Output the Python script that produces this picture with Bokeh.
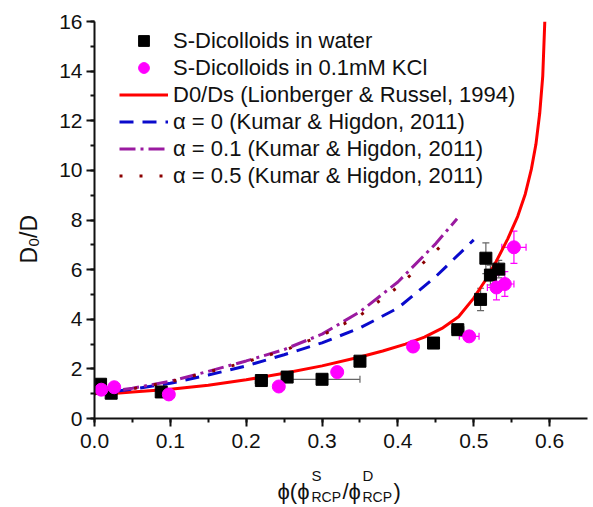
import numpy as np
from bokeh.plotting import figure
from bokeh.layouts import row, column
from bokeh.models import (ColumnDataSource, Whisker, TeeHead, Legend, LegendItem,
                          SingleIntervalTicker, NumeralTickFormatter, Range1d)
from bokeh.core.properties import value
from bokeh.embed import file_html
from bokeh.resources import INLINE

# ---- data ----
water_x = [0.008, 0.022, 0.088, 0.220, 0.254, 0.300, 0.350, 0.447, 0.479, 0.509, 0.516, 0.522, 0.533]
water_y = [1.38, 1.02, 1.07, 1.53, 1.67, 1.58, 2.31, 3.04, 3.58, 4.80, 6.46, 5.78, 6.02]
water_xerr = [0.003, 0.003, 0.003, 0.008, 0.003, 0.05, 0.003, 0.004, 0.008, 0.004, 0.004, 0.005, 0.006]
water_yerr = [0.1, 0.05, 0.05, 0.05, 0.05, 0.05, 0.1, 0.15, 0.2, 0.45, 0.62, 0.4, 0.35]

kcl_x = [0.009, 0.026, 0.098, 0.243, 0.320, 0.420, 0.494, 0.530, 0.541, 0.553]
kcl_y = [1.16, 1.26, 0.97, 1.29, 1.87, 2.90, 3.31, 5.28, 5.42, 6.90]
kcl_xerr = [0.003, 0.003, 0.003, 0.003, 0.003, 0.004, 0.013, 0.012, 0.012, 0.016]
kcl_yerr = [0.05, 0.05, 0.05, 0.05, 0.1, 0.2, 0.2, 0.5, 0.5, 0.65]

lr_x = [0.01, 0.02, 0.05, 0.1, 0.15, 0.2, 0.25, 0.3, 0.35, 0.38, 0.41, 0.435, 0.458, 0.48,
        0.5, 0.515, 0.53, 0.545, 0.558, 0.568, 0.576, 0.582, 0.587, 0.591, 0.5937]
lr_y = [1.0, 1.0, 1.07, 1.18, 1.34, 1.56, 1.82, 2.12, 2.48, 2.72, 3.0, 3.28, 3.63, 4.1,
        4.85, 5.55, 6.35, 7.25, 8.15, 9.05, 10.05, 11.05, 12.3, 13.8, 16.0]

a0_x = [0.0, 0.05, 0.1, 0.15, 0.2, 0.25, 0.3, 0.35, 0.4, 0.45, 0.5]
a0_y = [1.0, 1.18, 1.42, 1.75, 2.12, 2.57, 3.05, 3.65, 4.45, 5.72, 7.2]

a01_x = [0.0, 0.05, 0.1, 0.15, 0.2, 0.25, 0.3, 0.35, 0.4, 0.45, 0.478]
a01_y = [1.0, 1.22, 1.5, 1.9, 2.32, 2.78, 3.4, 4.3, 5.5, 7.05, 8.05]

a05_x = [0.0, 0.05, 0.1, 0.15, 0.2, 0.25, 0.3, 0.35, 0.4, 0.45, 0.468]
a05_y = [1.0, 1.2, 1.48, 1.87, 2.28, 2.74, 3.35, 4.15, 5.3, 6.75, 7.3]

labels = ["S-Dicolloids in water",
          "S-Dicolloids in 0.1mM KCl",
          "D0/Ds (Lionberger & Russel, 1994)",
          "\u03b1 = 0 (Kumar & Higdon, 2011)",
          "\u03b1 = 0.1 (Kumar & Higdon, 2011)",
          "\u03b1 = 0.5 (Kumar & Higdon, 2011)"]

FONT = "Liberation Sans"
TXT = "#111111"
LEFT_W = 50          # width of the strip that holds the y title
BOTTOM_H = 45        # height of the strip that holds the x title
BL, BR = 94 - LEFT_W, 6   # main plot's left/right borders

# ---------------- main plot ----------------
p = figure(width=593 - LEFT_W, height=507 - BOTTOM_H, output_backend="svg", toolbar_location=None,
           x_range=Range1d(0, 0.65), y_range=Range1d(0, 16),
           min_border_left=BL, min_border_right=BR, min_border_top=21,
           min_border_bottom=507 - BOTTOM_H - 21 - 397)
p.outline_line_color = None
p.xgrid.visible = False
p.ygrid.visible = False

for ax in (p.xaxis[0], p.yaxis[0]):
    ax.axis_line_width = 2
    ax.axis_line_color = "#111111"
    ax.major_tick_line_width = 2
    ax.minor_tick_line_width = 2
    ax.major_tick_line_color = "#111111"
    ax.minor_tick_line_color = "#111111"
    ax.major_tick_out = 8
    ax.major_tick_in = 0
    ax.minor_tick_out = 4
    ax.minor_tick_in = 0
    ax.major_label_text_font = FONT
    ax.major_label_text_font_size = "21px"
    ax.major_label_text_color = TXT

p.xaxis[0].ticker = SingleIntervalTicker(interval=0.1, num_minor_ticks=2)
p.xaxis[0].formatter = NumeralTickFormatter(format="0.0")
p.xaxis[0].major_label_standoff = 7
p.yaxis[0].ticker = SingleIntervalTicker(interval=2, num_minor_ticks=2)
p.yaxis[0].major_label_standoff = 4

r_lr = p.line(lr_x, lr_y, line_color="#ff0000", line_width=3)
r_a0 = p.line(a0_x, a0_y, line_color="#0a0acc", line_width=3, line_dash="14 9")
r_a01 = p.line(a01_x, a01_y, line_color="#9a1aa0", line_width=3, line_dash="16 5 3 5")
r_a05 = p.line(a05_x, a05_y, line_color="#8b0000", line_width=3, line_dash="3 17")

def err_source(xs, ys, xe, ye):
    return ColumnDataSource(dict(x=xs, y=ys,
                                 xl=[a - b for a, b in zip(xs, xe)],
                                 xu=[a + b for a, b in zip(xs, xe)],
                                 yl=[a - b for a, b in zip(ys, ye)],
                                 yu=[a + b for a, b in zip(ys, ye)]))

ws = err_source(water_x, water_y, water_xerr, water_yerr)
ks = err_source(kcl_x, kcl_y, kcl_xerr, kcl_yerr)

for src, col in ((ws, "#666666"), (ks, "#ff00ff")):
    for base, lo, up, dim in (("y", "xl", "xu", "width"), ("x", "yl", "yu", "height")):
        p.add_layout(Whisker(source=src, base=base, lower=lo, upper=up, dimension=dim,
                             line_color=col, line_width=1.2,
                             upper_head=TeeHead(size=7, line_color=col, line_width=1.2),
                             lower_head=TeeHead(size=7, line_color=col, line_width=1.2)))

r_w = p.scatter("x", "y", source=ws, marker="square", size=12, fill_color="black",
                line_color="black")
r_k = p.scatter("x", "y", source=ks, marker="circle", size=13, fill_color="#ff00ff",
                line_color="#ff00ff")

legend = Legend(items=[LegendItem(label=labels[0], renderers=[r_w]),
                       LegendItem(label=labels[1], renderers=[r_k]),
                       LegendItem(label=labels[2], renderers=[r_lr]),
                       LegendItem(label=labels[3], renderers=[r_a0]),
                       LegendItem(label=labels[4], renderers=[r_a01]),
                       LegendItem(label=labels[5], renderers=[r_a05])],
                location=(25, 229), margin=0, padding=0, spacing=0,
                glyph_width=49, glyph_height=27, label_height=27, label_standoff=5,
                label_text_font=FONT, label_text_font_size="22px", label_text_color=TXT,
                background_fill_alpha=0, border_line_color=None)
p.add_layout(legend)

# ---------------- title strips (text positioned in canvas pixels) ----------------
def strip(w, h, x0, y0, bl=0, br=0):
    f = figure(width=w, height=h, output_backend="svg", toolbar_location=None,
               x_range=Range1d(x0 + bl, x0 + w - br), y_range=Range1d(507 - y0 - h, 507 - y0),
               x_axis_type=None, y_axis_type=None, min_border=0,
               min_border_left=bl, min_border_right=br, min_border_top=0, min_border_bottom=0)
    f.outline_line_color = None
    f.xgrid.visible = False
    f.ygrid.visible = False
    return f

SHIFT = 7  # observed offset of the alphabetic baseline in the rendered text

def put(f, text, cx, cy, size, angle=0.0):
    if angle:
        cx = cx - SHIFT
    else:
        cy = cy - SHIFT
    f.text(x=[cx], y=[507 - cy], text=[text], text_font=value(FONT),
           text_font_size=f"{size}px", text_color=TXT, text_align="left",
           text_baseline="alphabetic", angle=angle)

left = strip(LEFT_W, 507, 0, 0)
put(left, "D", 35, 263, 23, np.pi / 2)
put(left, "0", 40, 246, 15, np.pi / 2)
put(left, "/D", 35, 237.5, 23, np.pi / 2)

bottom = strip(593 - LEFT_W, BOTTOM_H, LEFT_W, 507 - BOTTOM_H, bl=BL, br=BR)
PHI = "\u03d5"
put(bottom, PHI + "(" + PHI, 277, 498, 22)
put(bottom, "S", 311, 482, 15)
put(bottom, "RCP", 311, 503, 14)
put(bottom, "/" + PHI, 342, 498, 22)
put(bottom, "D", 362, 482, 15)
put(bottom, "RCP", 362, 503, 14)
put(bottom, ")", 393, 498, 22)

layout = row(left, column(p, bottom, spacing=0), spacing=0)
open("out.html", "w").write(file_html(layout, INLINE))
